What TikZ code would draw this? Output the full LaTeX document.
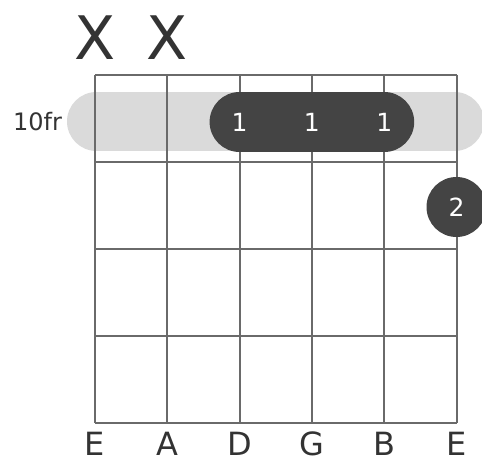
\documentclass[tikz,border=0pt]{standalone}
\usepackage{fontspec}
\setmainfont{DejaVu Sans}
\definecolor{gridc}{HTML}{6A6A6A}
\definecolor{bandc}{HTML}{DADADA}
\definecolor{dotc}{HTML}{444444}
\definecolor{txtc}{HTML}{333333}
\tikzset{
  gridline/.style={draw=gridc, line width=2pt},
  mutemark/.style={text=txtc, font=\fontsize{60}{60}\selectfont, inner sep=0pt},
  strlabel/.style={text=txtc, font=\fontsize{32}{32}\selectfont, inner sep=0pt},
  fingernum/.style={text=white, font=\fontsize{25}{25}\selectfont, inner sep=0pt},
  fretlabel/.style={text=txtc, font=\fontsize{24}{24}\selectfont, inner sep=0pt},
}
\begin{document}
\begin{tikzpicture}[x=1pt,y=-1pt]
\useasboundingbox (0,0) rectangle (482,462);
\begin{scope}
\clip (0,0) rectangle (482,462);
% fret band
\fill[bandc] (96.5,92) rectangle (454.5,151);
\fill[bandc] (96.5,121.5) circle (29.5);
\fill[bandc] (454.5,121.5) circle (29.5);
% grid
\foreach \i/\x in {1/95,2/167.3,3/239.6,4/311.9,5/384.2,6/456.5} {
  \coordinate (s\i t) at (\x,75);
  \coordinate (s\i b) at (\x,423);
  \draw[gridline] (s\i t) -- (s\i b);
}
\foreach \j/\y in {0/75,1/162,2/249,3/336,4/423} {
  \coordinate (f\j l) at (95,\y);
  \coordinate (f\j r) at (456.5,\y);
  \draw[gridline] (f\j l) -- (f\j r);
}
% barre
\fill[dotc] (239.6,92) rectangle (384.2,152);
\fill[dotc] (239.6,122) circle (30);
\fill[dotc] (384.2,122) circle (30);
\node[fingernum] (b1) at (239.6,122) {1};
\node[fingernum] (b2) at (311.9,122) {1};
\node[fingernum] (b3) at (384.2,122) {1};
% finger 2
\fill[dotc] (456.5,207) circle (30);
\node[fingernum] (d2) at (456.5,207) {2};
\end{scope}
% labels
\node[fretlabel] (fr) at (37.5,122) {10fr};
\node[mutemark] (m1) at (95,38) {X};
\node[mutemark] (m2) at (167.3,38) {X};
\foreach \i/\x/\l in {1/95/E,2/167.3/A,3/239.6/D,4/311.9/G,5/384.2/B,6/456.5/E} {
  \node[strlabel] (l\i) at (\x,444) {\l};
}
\end{tikzpicture}
\end{document}
